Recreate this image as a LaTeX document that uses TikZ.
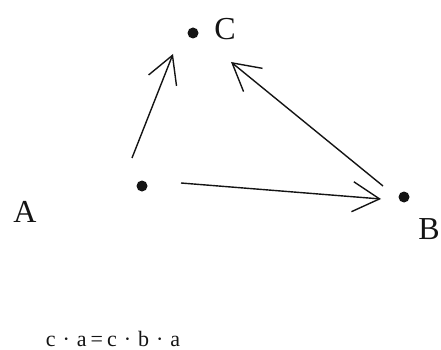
\documentclass[tikz,border=0pt]{standalone}
\usepackage{fontspec}
\setmainfont{Liberation Serif}
\usepackage{tikz}
\usetikzlibrary{arrows.meta}
\definecolor{InkCol}{RGB}{20,20,20}
\tikzset{
  nd_dot/.style={
    circle, fill=InkCol, minimum size=11pt, inner sep=0pt},
  nd_lbl/.style={
    font=\fontsize{32}{34}\selectfont, text=InkCol, inner sep=0pt},
  nd_eq/.style={
    font=\fontsize{22}{24}\selectfont, text=InkCol, inner sep=0pt},
  arr/.style={-{Straight Barb[length=27pt,width=30pt,line width=1.4pt]},
    line width=1.4pt, draw=InkCol},
}

\begin{document}
\begin{tikzpicture}[x=1pt,y=-1pt]
\useasboundingbox (0,0) rectangle (441,350);

%% points
\node[nd_dot] at (142,186) (pA){};
\node[nd_dot] at (404,197) (pB){};
\node[nd_dot] at (193,33)  (pC){};

%% labels
\node[nd_lbl] at (25,212)  (lA){A};
\node[nd_lbl] at (429,229) (lB){B};
\node[nd_lbl] at (225,29)  (lC){C};

%% arrow ends
\coordinate (aC0) at (132,158); \coordinate (aC1) at (173,54);
\coordinate (bC0) at (383,186); \coordinate (bC1) at (231,62);
\coordinate (aB0) at (181,183); \coordinate (aB1) at (381,199);

\draw[arr] (aC0)--(aC1);
\draw[arr] (bC0)--(bC1);
\draw[arr] (aB0)--(aB1);

\node[nd_eq] at (113,339) (eq){c\hspace{7pt}·\hspace{7pt}a\hspace{4pt}=\hspace{4pt}c\hspace{7pt}·\hspace{7pt}b\hspace{7pt}·\hspace{7pt}a};

\end{tikzpicture}
\end{document}
